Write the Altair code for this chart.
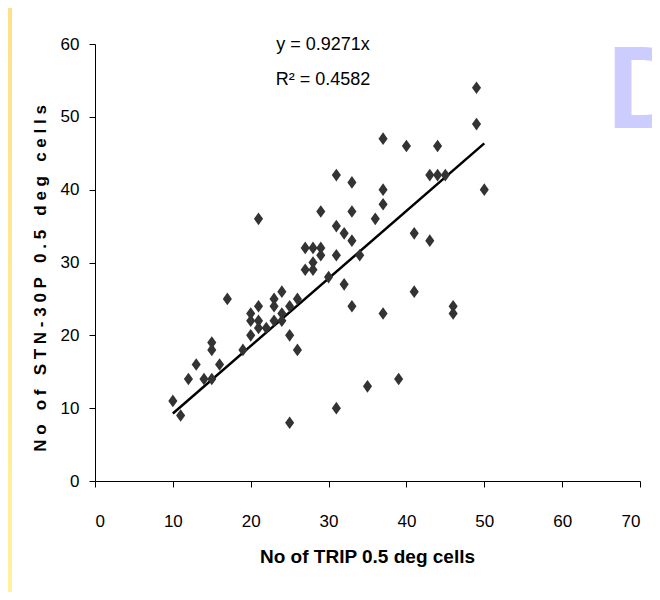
import altair as alt
import pandas as pd

trip_cells = [10, 11, 12, 13, 14, 15, 15, 15, 16, 17, 19, 20, 20, 20, 21, 21, 21, 21,
              22, 23, 23, 23, 24, 24, 24, 25, 25, 25, 26, 26, 27, 27, 28, 28, 28,
              29, 29, 29, 30, 31, 31, 31, 31, 32, 32, 33, 33, 33, 33, 34, 35, 36,
              37, 37, 37, 37, 39, 40, 41, 41, 43, 43, 44, 44, 45, 46, 46, 49, 49, 50]
stn_cells = [11, 9, 14, 16, 14, 14, 18, 19, 16, 25, 18, 20, 22, 23, 24, 22, 21, 36,
             21, 25, 24, 22, 26, 23, 22, 24, 20, 8, 25, 18, 32, 29, 32, 30, 29,
             37, 32, 31, 28, 42, 35, 31, 10, 34, 27, 41, 37, 33, 24, 31, 13, 36,
             47, 40, 38, 23, 14, 46, 34, 26, 42, 33, 46, 42, 42, 24, 23, 54, 49, 40]
fit_x = [10, 50]
fit_y = [9.271, 46.355]
x_ticks = [0, 10, 20, 30, 40, 50, 60, 70]
y_ticks = [0, 10, 20, 30, 40, 50, 60]
eq_lines = ["y = 0.9271x", "R\u00b2 = 0.4582"]
y_title_words = ["No", "of", "STN-30P", "0.5", "deg", "cells"]

NB = "\u00a0"
y_title = (NB * 3).join(NB.join(list(w)) for w in y_title_words)

pts = pd.DataFrame({"x": trip_cells, "y": stn_cells})
fit = pd.DataFrame({"x": fit_x, "y": fit_y})

NARROW = "Liberation Sans Narrow, Arial Narrow, Liberation Sans, sans-serif"

xscale = alt.Scale(domain=[0, 70], nice=False, zero=True)
yscale = alt.Scale(domain=[0, 60], nice=False, zero=True)

xaxis = alt.Axis(values=x_ticks, grid=False, tickSize=6, tickColor="black",
                 domainColor="black", labelPadding=26, labelFontSize=17,
                 labelFont=NARROW, labelColor="black", zindex=2,
                 title="No of TRIP 0.5 deg cells", titleFont=NARROW,
                 titleFontSize=19, titleFontWeight="bold", titleColor="black",
                 titleX=272, titleY=75, titleBaseline="middle", titleAlign="center")
yaxis = alt.Axis(values=y_ticks, grid=False, tickSize=6, tickColor="black",
                 domainColor="black", labelPadding=10, labelFontSize=17,
                 labelFont=NARROW, labelColor="black", zindex=2,
                 title=y_title,
                 titleFont=NARROW, titleFontSize=17, titleFontWeight="bold",
                 titleColor="black", titleAngle=270, titleX=-55, titleY=234,
                 titleBaseline="middle", titleAlign="center")

bg = alt.Chart(pd.DataFrame({"a": [0]})).mark_rect(color="white").encode(
    x=alt.value(-83), x2=alt.value(560), y=alt.value(-40), y2=alt.value(560))

strip = alt.Chart(pd.DataFrame({"a": [0]})).mark_rect(
    fill=alt.Gradient(gradient="linear",
                      stops=[alt.GradientStop(color="#FFE08A", offset=0),
                             alt.GradientStop(color="#FFF39C", offset=1)],
                      x1=0, y1=0, x2=0, y2=1)).encode(
    x=alt.value(-90), x2=alt.value(-83), y=alt.value(-40), y2=alt.value(560))

big_d = alt.Chart(pd.DataFrame({"t": ["D"]})).mark_text(
    align="left", baseline="alphabetic", fontSize=116, fontWeight="bold",
    font="Liberation Sans", color="#CCCCFF").encode(
    text="t:N", x=alt.value(512), y=alt.value(84))

points = alt.Chart(pts).mark_point(
    shape="M0,-1L0.72,0L0,1L-0.72,0Z", filled=True, size=160,
    color="#333333", opacity=1).encode(
    x=alt.X("x:Q", scale=xscale, axis=xaxis),
    y=alt.Y("y:Q", scale=yscale, axis=yaxis))

line = alt.Chart(fit).mark_line(color="black", strokeWidth=2.5).encode(
    x=alt.X("x:Q", scale=xscale), y=alt.Y("y:Q", scale=yscale))

eq = alt.Chart(pd.DataFrame({"t": eq_lines, "py": [1, 36]})).mark_text(
    align="center", baseline="middle", fontSize=18, font=NARROW,
    color="black").encode(
    text="t:N", x=alt.value(228), y=alt.Y("py:Q", scale=None))

chart = alt.layer(bg, strip, big_d, line, points, eq).properties(
    width=545, height=437,
    autosize=alt.AutoSizeParams(type="none"),
    padding={"left": 87, "top": 36, "right": 12, "bottom": 111},
    background="white",
).configure_view(stroke=None)

chart.save("out.html", embed_options={"renderer": "svg", "actions": False})
